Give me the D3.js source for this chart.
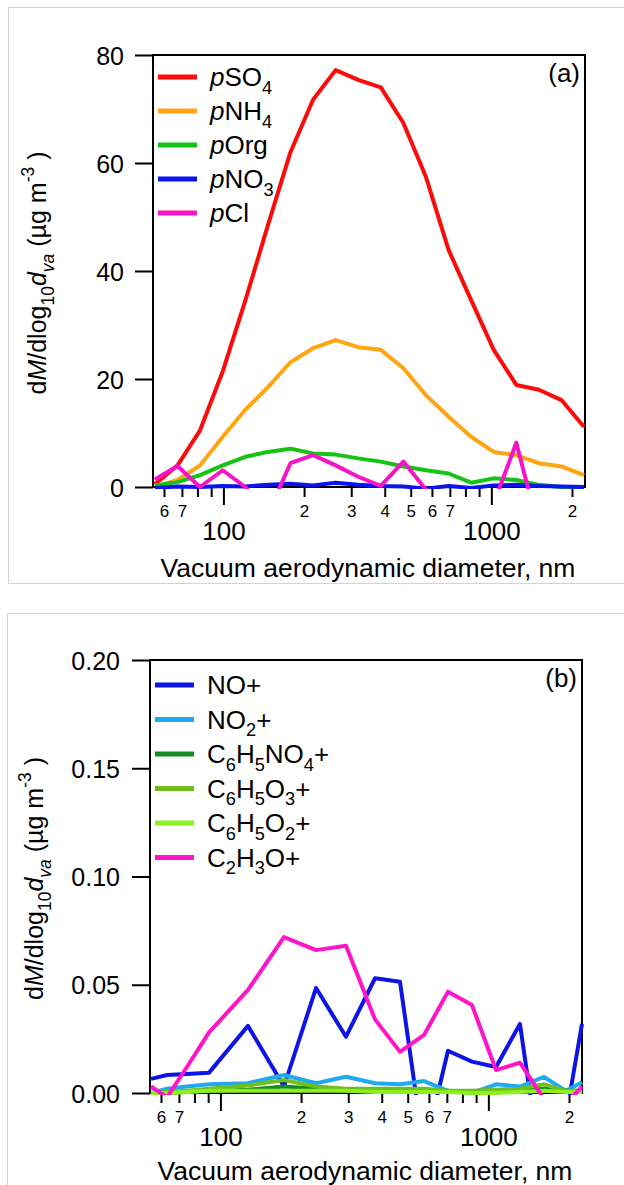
<!DOCTYPE html>
<html>
<head>
<meta charset="utf-8">
<script src="https://cdn.jsdelivr.net/npm/d3@7"></script>
<style>
  body { margin: 0; background: #fff; }
  text { font-family: Arial, "Liberation Sans", sans-serif; fill: #000; }
</style>
</head>
<body>
<div id="chart"></div>
<script>
// particle size bins (vacuum aerodynamic diameter, nm)
var sizeA = [55.5, 67.4, 81.8, 99.4, 120.7, 146.6, 177.9, 216, 262.3, 318.5,
  386.7, 469.5, 570.2, 692.3, 840.6, 1020.7, 1239.3, 1504.8, 1827.2, 2218.7];
var sizeB = [55.1, 63.2, 75, 90.7, 126.7, 172.7, 227.4, 294.2, 377.6, 468,
  575.3, 706.8, 868.7, 1068, 1312, 1613, 1949, 2236];

// panel (a) species, ug m-3
var pSO4 = [0.5, 4, 10.5, 21.4, 34.5, 48.5, 62, 71.7, 77.2, 75.4, 74, 67.4, 57.4, 43.9, 34.6, 25.4, 18.9, 18, 16.1, 11.1];
var pNH4 = [0, 1.3, 4, 9.3, 14.3, 18.5, 23.1, 25.7, 27.2, 25.9, 25.4, 22, 17, 13, 9.3, 6.5, 5.9, 4.4, 3.8, 2.2];
var pOrg = [0.3, 0.9, 2.2, 4, 5.6, 6.5, 7.1, 6.2, 6, 5.3, 4.7, 3.8, 3.1, 2.5, 0.8, 1.6, 1.3, 0.4, 0, 0];
var pNO3 = [-0.2, 0.1, 0, 0.2, 0.1, 0.4, 0.6, 0.3, 0.8, 0.4, 0.2, 0.1, -0.3, 0.2, -0.2, 0.3, 0.4, 0.2, 0.1, 0];
var pCl = [1.4, 3.9, 0, 3.1, 0, -5, 4.4, 5.9, 4, 1.9, 0.2, 4.7, -0.5, -2, -3, -3, 8.2, -8, -5, -4];

// panel (b) ions, ug m-3
var noPlus = [0.0065, 0.0083, 0.0088, 0.0094, 0.031, 0.003, 0.0485, 0.026, 0.053, 0.0514, -0.027, 0.0195, 0.0145, 0.012, 0.0319, -0.045, -0.011, 0.032];
var no2Plus = [0, 0.002, 0.003, 0.004, 0.0045, 0.0083, 0.0045, 0.0075, 0.0045, 0.004, 0.0055, 0.001, 0, 0.004, 0.003, 0.0074, 0.001, 0.005];
var c6h5no4Plus = [0, 0, 0.0005, 0.001, 0.0015, 0.003, 0.002, 0.001, 0.001, 0.001, 0.001, 0.0005, 0.0005, 0.001, 0.001, 0.002, 0.001, 0.001];
var c6h5o3Plus = [0, 0.0005, 0.001, 0.002, 0.0035, 0.006, 0.003, 0.002, 0.002, 0.002, 0.002, 0.001, 0.001, 0.0015, 0.002, 0.004, 0.001, 0.001];
var c6h5o2Plus = [0, 0, 0.0005, 0.001, 0.001, 0.001, 0.001, 0.001, 0.0005, 0.0005, 0.0005, 0.0005, 0, 0, 0.0005, 0.001, 0.0005, 0.0005];
var c2h3oPlus = [0.003, -0.002, 0.012, 0.028, 0.0476, 0.072, 0.066, 0.068, 0.034, 0.019, 0.0268, 0.0468, 0.0406, 0.0106, 0.014, -0.0028, -0.005, 0.003];

// axis ticks
var minorTicks = [60, 70, 80, 90, 200, 300, 400, 500, 600, 700, 800, 900, 2000];
var minorLabels = {60: "6", 70: "7", 200: "2", 300: "3", 400: "4", 500: "5", 600: "6", 700: "7", 2000: "2"};
var majorTicks = [100, 1000];
var yTicksA = [0, 20, 40, 60, 80];
var yTicksB = [0, 0.05, 0.10, 0.15, 0.20];

var xTitle = "Vacuum aerodynamic diameter, nm";
var yTitle = [{t: "d"}, {t: "M", i: true}, {t: "/dlog"}, {t: "10", sub: true}, {t: "d", i: true},
  {t: "va", sub: true, i: true}, {t: "  (\u00b5g m"}, {t: "-3", sup: true}, {t: " )"}];

var seriesA = [
  {name: [{t: "p", i: true}, {t: "SO"}, {t: "4", sub: true}], values: pSO4, color: "#ff0a0a"},
  {name: [{t: "p", i: true}, {t: "NH"}, {t: "4", sub: true}], values: pNH4, color: "#ffa514"},
  {name: [{t: "p", i: true}, {t: "Org"}], values: pOrg, color: "#14c314"},
  {name: [{t: "p", i: true}, {t: "NO"}, {t: "3", sub: true}], values: pNO3, color: "#0a14f0"},
  {name: [{t: "p", i: true}, {t: "Cl"}], values: pCl, color: "#f514c8"}
];
var seriesB = [
  {name: [{t: "NO+"}], values: noPlus, color: "#0f14e6"},
  {name: [{t: "NO"}, {t: "2", sub: true}, {t: "+"}], values: no2Plus, color: "#1eaaf0"},
  {name: [{t: "C"}, {t: "6", sub: true}, {t: "H"}, {t: "5", sub: true}, {t: "NO"}, {t: "4", sub: true}, {t: "+"}], values: c6h5no4Plus, color: "#148c1e"},
  {name: [{t: "C"}, {t: "6", sub: true}, {t: "H"}, {t: "5", sub: true}, {t: "O"}, {t: "3", sub: true}, {t: "+"}], values: c6h5o3Plus, color: "#6ebe1e"},
  {name: [{t: "C"}, {t: "6", sub: true}, {t: "H"}, {t: "5", sub: true}, {t: "O"}, {t: "2", sub: true}, {t: "+"}], values: c6h5o2Plus, color: "#8cf01e"},
  {name: [{t: "C"}, {t: "2", sub: true}, {t: "H"}, {t: "3", sub: true}, {t: "O+"}], values: c2h3oPlus, color: "#ff14c8"}
];

var svg = d3.select("#chart").append("svg")
  .attr("width", 624)
  .attr("height", 1185);

// write text made of parts with sub/superscripts
function richText(sel, parts, size) {
  var shift = 0;
  parts.forEach(function(p) {
    var target = p.sub ? size * 0.3 : (p.sup ? -size * 0.5 : 0);
    var ts = sel.append("tspan").text(p.t).attr("dy", target - shift);
    shift = target;
    if (p.sub || p.sup) ts.attr("font-size", size * 0.7);
    if (p.i) ts.attr("font-style", "italic");
  });
}

function drawPanel(cfg) {
  var g = svg.append("g");

  // light frame around the panel
  g.append("rect")
    .attr("x", cfg.frame[0] + 0.5).attr("y", cfg.frame[1] + 0.5)
    .attr("width", 700).attr("height", cfg.frame[2])
    .attr("fill", "none").attr("stroke", "#d4d4d4");

  var x = d3.scaleLog().domain([54.6, 2236]).range([cfg.left, cfg.left + 432]);
  var y = d3.scaleLinear().domain([0, cfg.yMax]).range([cfg.bottom, cfg.top]);

  // y axis
  var yAxis = g.append("g")
    .attr("transform", `translate(${cfg.left},0)`)
    .call(d3.axisLeft(y).tickValues(cfg.yTicks).tickSize(18).tickPadding(cfg.yPad).tickFormat(cfg.yFormat));
  yAxis.select(".domain").remove();
  yAxis.selectAll("line").attr("stroke-width", 2);
  yAxis.selectAll("text").attr("font-size", 25).attr("font-family", null).attr("dy", "0.36em");

  // x axis minor and major ticks
  var xMinor = g.append("g")
    .attr("transform", `translate(0,${cfg.bottom})`)
    .call(d3.axisBottom(x).tickValues(minorTicks).tickSize(10).tickPadding(8)
      .tickFormat(d => minorLabels[d] || ""));
  xMinor.select(".domain").remove();
  xMinor.selectAll("line").attr("stroke-width", 2);
  xMinor.selectAll("text").attr("font-size", 17).attr("font-family", null);

  var xMajor = g.append("g")
    .attr("transform", `translate(0,${cfg.bottom})`)
    .call(d3.axisBottom(x).tickValues(majorTicks).tickSize(18).tickPadding(17)
      .tickFormat(d3.format("d")));
  xMajor.select(".domain").remove();
  xMajor.selectAll("line").attr("stroke-width", 2);
  xMajor.selectAll("text").attr("font-size", 26).attr("font-family", null);

  // plot box
  g.append("rect")
    .attr("x", cfg.left).attr("y", cfg.top)
    .attr("width", 432).attr("height", cfg.bottom - cfg.top)
    .attr("fill", "none").attr("stroke", "#000").attr("stroke-width", 2);

  // axis titles
  g.append("text")
    .attr("x", cfg.left + 215).attr("y", cfg.bottom + cfg.titleGap)
    .attr("text-anchor", "middle").attr("font-size", 26.5)
    .text(xTitle);

  var yt = g.append("text")
    .attr("transform", `translate(${cfg.left - 107},${(cfg.top + cfg.bottom) / 2 + 2}) rotate(-90)`)
    .attr("text-anchor", "middle").attr("font-size", 25);
  richText(yt, yTitle, 25);

  // lines
  var clipId = "clip" + cfg.id;
  svg.append("clipPath").attr("id", clipId)
    .append("rect")
    .attr("x", cfg.left - 2).attr("y", cfg.top - 2)
    .attr("width", 436).attr("height", cfg.bottom - cfg.top + 4);

  var line = d3.line()
    .x((d, i) => x(cfg.sizes[i]))
    .y(d => y(d));

  g.append("g").attr("clip-path", `url(#${clipId})`)
    .selectAll("path")
    .data(cfg.series)
    .enter()
    .append("path")
    .attr("d", d => line(d.values))
    .attr("fill", "none")
    .attr("stroke", d => d.color)
    .attr("stroke-width", 4)
    .attr("stroke-linejoin", "round");

  // legend
  var leg = g.append("g");
  cfg.series.forEach(function(s, i) {
    var ly = cfg.legTop + i * cfg.legStep;
    leg.append("line")
      .attr("x1", cfg.left + 5).attr("x2", cfg.left + 44)
      .attr("y1", ly).attr("y2", ly)
      .attr("stroke", s.color).attr("stroke-width", 5);
    var lt = leg.append("text")
      .attr("x", cfg.left + 57).attr("y", ly + 9)
      .attr("font-size", 26);
    richText(lt, s.name, 26);
  });

  g.append("text")
    .attr("x", cfg.left + 427).attr("y", cfg.top + 27)
    .attr("text-anchor", "end").attr("font-size", 26)
    .text(cfg.label);
}

drawPanel({
  id: "a", frame: [8, 7, 576], left: 153, top: 55, bottom: 487, sizes: sizeA,
  yMax: 80, yTicks: yTicksA, yFormat: d3.format("d"), yPad: 11, titleGap: 90,
  series: seriesA, legTop: 77, legStep: 34, label: "(a)"
});

drawPanel({
  id: "b", frame: [7, 613, 600], left: 150, top: 660, bottom: 1093, sizes: sizeB,
  yMax: 0.2, yTicks: yTicksB, yFormat: d3.format(".2f"), yPad: 12, titleGap: 87,
  series: seriesB, legTop: 685, legStep: 34.5, label: "(b)"
});
</script>
</body>
</html>
